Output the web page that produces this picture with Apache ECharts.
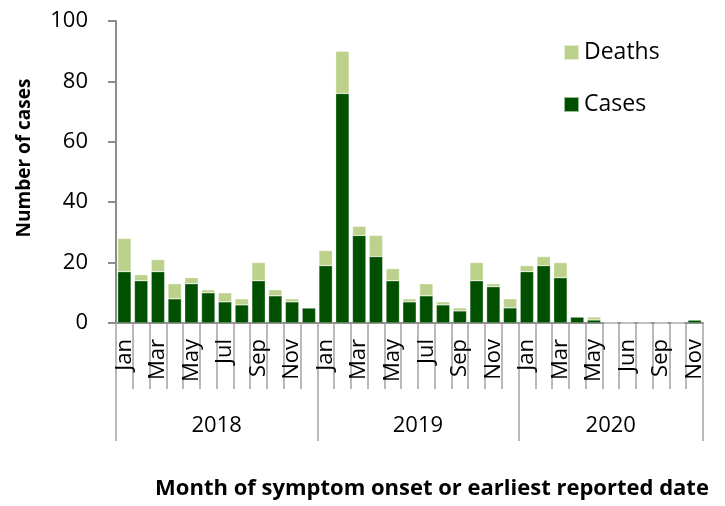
<!DOCTYPE html>
<html>
<head>
<meta charset="utf-8">
<script src="https://cdn.jsdelivr.net/npm/echarts@6/dist/echarts.min.js"></script>
<style>html,body{margin:0;padding:0;background:#fff}#c{width:725px;height:506px}</style>
</head>
<body>
<div id="c"></div>
<script>
const years = ['2018', '2019', '2020'];
const monthsPerYear = [12, 12, 11];
const monthLabels = [
  'Jan','Feb','Mar','Apr','May','Jun','Jul','Aug','Sep','Oct','Nov','Dec',
  'Jan','Feb','Mar','Apr','May','Jun','Jul','Aug','Sep','Oct','Nov','Dec',
  'Jan','Feb','Mar','Apr','May','Jun','Jun','Aug','Sep','Oct','Nov'
];
const cases = [
  17,14,17,8,13,10,7,6,14,9,7,5,
  19,76,29,22,14,7,9,6,4,14,12,5,
  17,19,15,2,1,0,0,0,0,0,1
];
const deaths = [
  11,2,4,5,2,1,3,2,6,2,1,0,
  5,14,3,7,4,1,4,1,1,6,1,3,
  2,3,5,0,1,0,0,0,0,0,0
];
const yTicks = [0, 20, 40, 60, 80, 100];

// year group boundaries and centres (in category units)
const yearStarts = [];
const yearCentres = [];
let acc = 0;
monthsPerYear.forEach(n => { yearStarts.push(acc); yearCentres.push(acc + n / 2); acc += n; });
const nCats = acc;

const gray = '#8c8c8c';
const tickGray = '#a3a3a3';
const font = '"Open Sans", sans-serif';
const chart = echarts.init(document.getElementById('c'), null, {renderer: 'canvas'});
const cats = monthLabels.map((m, i) => i + ':' + m);
chart.setOption({
  animation: false,
  textStyle: {fontFamily: font, color: '#000'},
  grid: {left: 116, right: 22, top: 21, bottom: 183, containLabel: false},
  legend: {
    data: ['Deaths', 'Cases'],
    orient: 'vertical',
    left: 558, top: 36,
    icon: 'rect',
    itemWidth: 15, itemHeight: 15, itemGap: 29,
    textStyle: {fontSize: 23, fontFamily: font, color: '#000'}
  },
  xAxis: [
    {
      type: 'category', data: cats, position: 'bottom',
      axisLine: {lineStyle: {color: gray, width: 2}},
      axisTick: {show: true, interval: 0, alignWithLabel: false, length: 66, lineStyle: {color: tickGray, width: 1.5}},
      axisLabel: {
        interval: 1, rotate: 90, margin: 16, fontSize: 22, color: '#000', fontFamily: font,
        formatter: v => v.split(':')[1]
      }
    },
    {
      type: 'category', data: cats, position: 'bottom',
      axisLine: {show: false},
      axisTick: {
        show: true, alignWithLabel: false, length: 118,
        interval: (i) => yearStarts.indexOf(i) >= 0,
        lineStyle: {color: tickGray, width: 1.5}
      },
      axisLabel: {show: false}
    },
    {
      type: 'value', position: 'bottom', min: 0, max: nCats, interval: 0.5,
      axisLine: {show: false}, axisTick: {show: false}, splitLine: {show: false},
      axisLabel: {
        margin: 92, fontSize: 22, color: '#000', fontFamily: font, showMinLabel: true, showMaxLabel: true,
        formatter: v => { const k = yearCentres.indexOf(v); return k >= 0 ? years[k] : ''; }
      }
    }
  ],
  yAxis: {
    type: 'value', min: yTicks[0], max: yTicks[yTicks.length - 1], interval: 20,
    axisLine: {show: true, lineStyle: {color: gray, width: 2}},
    axisTick: {show: true, length: 8, lineStyle: {color: gray, width: 2}},
    axisLabel: {fontSize: 22, margin: 28, color: '#000', fontFamily: font},
    splitLine: {show: false}
  },
  graphic: [
    {
      type: 'text', x: 25, y: 158, rotation: Math.PI / 2,
      style: {text: 'Number of cases', font: 'bold 19px ' + font, fill: '#000', align: 'center', verticalAlign: 'middle'}
    },
    {
      type: 'text', x: 432, y: 489,
      style: {text: 'Month of symptom onset or earliest reported date', font: 'bold 22px ' + font, fill: '#000', align: 'center', verticalAlign: 'middle'}
    }
  ],
  series: [
    {
      name: 'Cases', type: 'bar', stack: 'all', data: cases, barCategoryGap: '20%',
      itemStyle: {color: '#005000', borderColor: 'rgba(255,255,255,0.6)', borderWidth: 0.5}
    },
    {
      name: 'Deaths', type: 'bar', stack: 'all', data: deaths, barCategoryGap: '20%',
      itemStyle: {color: '#bcd28c', borderColor: 'rgba(255,255,255,0.6)', borderWidth: 0.5}
    }
  ]
});
</script>
</body>
</html>
